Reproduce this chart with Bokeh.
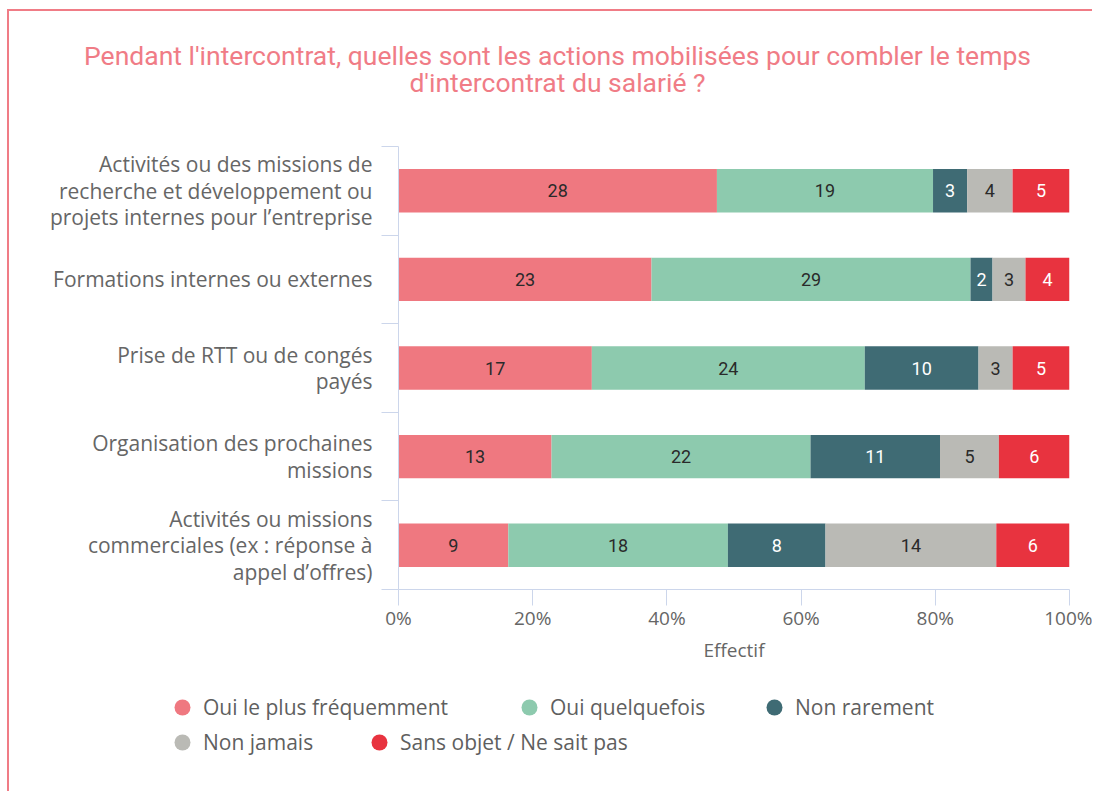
from bokeh.plotting import figure
from bokeh.layouts import column
from bokeh.models import (ColumnDataSource, FixedTicker, PrintfTickFormatter, Label,
                          Legend, LegendItem, Range1d)
from bokeh.core.properties import value
from bokeh.embed import file_html
from bokeh.resources import INLINE

# ---------------- data ----------------
title_text = "Pendant l'intercontrat, quelles sont les actions mobilisées pour combler le temps\nd'intercontrat du salarié ?"
categories = [
    "Activités ou des missions de\nrecherche et développement ou\nprojets internes pour l’entreprise",
    "Formations internes ou externes",
    "Prise de RTT ou de congés\npayés",
    "Organisation des prochaines\nmissions",
    "Activités ou missions\ncommerciales (ex : réponse à\nappel d’offres)",
]
series_names = ["Oui le plus fréquemment", "Oui quelquefois", "Non rarement",
                "Non jamais", "Sans objet / Ne sait pas"]
oui_plus = [28, 23, 17, 13, 9]
oui_quelquefois = [19, 29, 24, 22, 18]
non_rarement = [3, 2, 10, 11, 8]
non_jamais = [4, 3, 3, 5, 14]
sans_objet = [5, 4, 5, 6, 6]
x_ticks = [0, 20, 40, 60, 80, 100]
x_title = "Effectif"

colors = ["#EF7880", "#8DCAAE", "#3F6B74", "#BABAB5", "#E8333F"]
label_colors = ["#2a2a2a", "#2a2a2a", "#ffffff", "#2a2a2a", "#ffffff"]
pink = "#F07C86"
axis_col = "#ccd6eb"
text_col = "#666666"

series = [oui_plus, oui_quelquefois, non_rarement, non_jamais, sans_objet]
n = len(categories)
ypos = [n - i - 0.5 for i in range(n)]
totals = [sum(s[i] for s in series) for i in range(n)]

W = 1083


def bare_figure(h):
    f = figure(width=W, height=h, x_range=Range1d(0, 1), y_range=Range1d(0, 1),
               x_axis_type=None, y_axis_type=None, output_backend="svg",
               toolbar_location=None, min_border=0, frame_align=False)
    f.min_border_left = f.min_border_right = f.min_border_top = f.min_border_bottom = 0
    f.outline_line_color = None
    f.xgrid.visible = False
    f.ygrid.visible = False
    return f


# ---------------- title ----------------
TH = 100
pt = bare_figure(TH)
pt.add_layout(Label(x=548, y=TH - 57.5, x_units="screen", y_units="screen", text=title_text,
                    text_align="center", text_baseline="middle", text_font="Roboto",
                    text_font_size="26.5px", text_color=pink, text_line_height=0.87))

# ---------------- main chart ----------------
p = figure(width=W, height=570, x_range=Range1d(0, 100), y_range=Range1d(0, n),
           output_backend="svg", toolbar_location=None, frame_align=False,
           min_border_left=389, min_border_right=23, min_border_top=35,
           min_border_bottom=92)
p.outline_line_color = None
p.xgrid.visible = False
p.ygrid.visible = False

lefts = [0.0] * n
tx, ty, tt, tc = [], [], [], []
for k, s in enumerate(series):
    pct = [s[i] / totals[i] * 100 for i in range(n)]
    rights = [lefts[i] + pct[i] for i in range(n)]
    src = ColumnDataSource(dict(y=ypos, left=lefts, right=rights))
    p.hbar(y="y", left="left", right="right", height=0.49, source=src,
           fill_color=colors[k], line_color=None)
    for i in range(n):
        tx.append((lefts[i] + rights[i]) / 2)
        ty.append(ypos[i])
        tt.append(str(s[i]))
        tc.append(label_colors[k])
    lefts = rights

tsrc = ColumnDataSource(dict(x=tx, y=ty, t=tt, c=tc))
p.text(x="x", y="y", text="t", text_color="c", source=tsrc,
       text_font=value("Roboto"), text_font_size="18px",
       text_align="center", text_baseline="middle")

ya = p.yaxis[0]
ya.ticker = FixedTicker(ticks=ypos, minor_ticks=list(range(n + 1)))
ya.major_label_overrides = {y: c for y, c in zip(ypos, categories)}
ya.major_tick_line_color = None
ya.major_tick_out = 0
ya.major_tick_in = 0
ya.minor_tick_out = 17
ya.minor_tick_in = 0
ya.minor_tick_line_color = axis_col
ya.axis_line_color = axis_col
ya.major_label_standoff = 9
ya.major_label_text_font = "Open Sans"
ya.major_label_text_font_size = "21px"
ya.major_label_text_color = text_col
ya.major_label_text_line_height = 0.944

xa = p.xaxis[0]
xa.ticker = FixedTicker(ticks=x_ticks, minor_ticks=[])
xa.formatter = PrintfTickFormatter(format="%d%%")
xa.major_tick_out = 16
xa.major_tick_in = 0
xa.major_tick_line_color = axis_col
xa.axis_line_color = axis_col
xa.major_label_standoff = -1
xa.major_label_text_font = "Open Sans"
xa.major_label_text_font_size = "19px"
xa.major_label_text_color = text_col
xa.axis_label = x_title
xa.axis_label_standoff = 3
xa.axis_label_text_font = "Open Sans"
xa.axis_label_text_font_size = "19px"
xa.axis_label_text_font_style = "normal"
xa.axis_label_text_color = text_col

# ---------------- legend ----------------
LH = 110
pl = bare_figure(LH)
legend_pos = [(182, 707), (529, 707), (774, 707), (182, 742), (379, 742)]
nan = float("nan")
for k, name in enumerate(series_names):
    r = pl.scatter(x=[nan], y=[nan], marker="circle", size=16,
                   fill_color=colors[k], line_color=None)
    cx, cy = legend_pos[k]
    leg = Legend(items=[LegendItem(label=name, renderers=[r])],
                 location=(cx - 29, LH - (cy + 20 - 681)),
                 orientation="horizontal", glyph_width=40, glyph_height=40,
                 label_standoff=1, padding=0, margin=0, border_line_color=None,
                 background_fill_alpha=0, label_text_font="Open Sans",
                 label_text_font_size="21px", label_text_color="#5f5f5f")
    pl.add_layout(leg, "center")

layout = column(pt, p, pl, spacing=0,
                styles={"border-left": f"2px solid {pink}", "border-top": f"2px solid {pink}",
                        "margin-left": "7px", "margin-top": "9px"})

open("out.html", "w").write(file_html(layout, INLINE))
